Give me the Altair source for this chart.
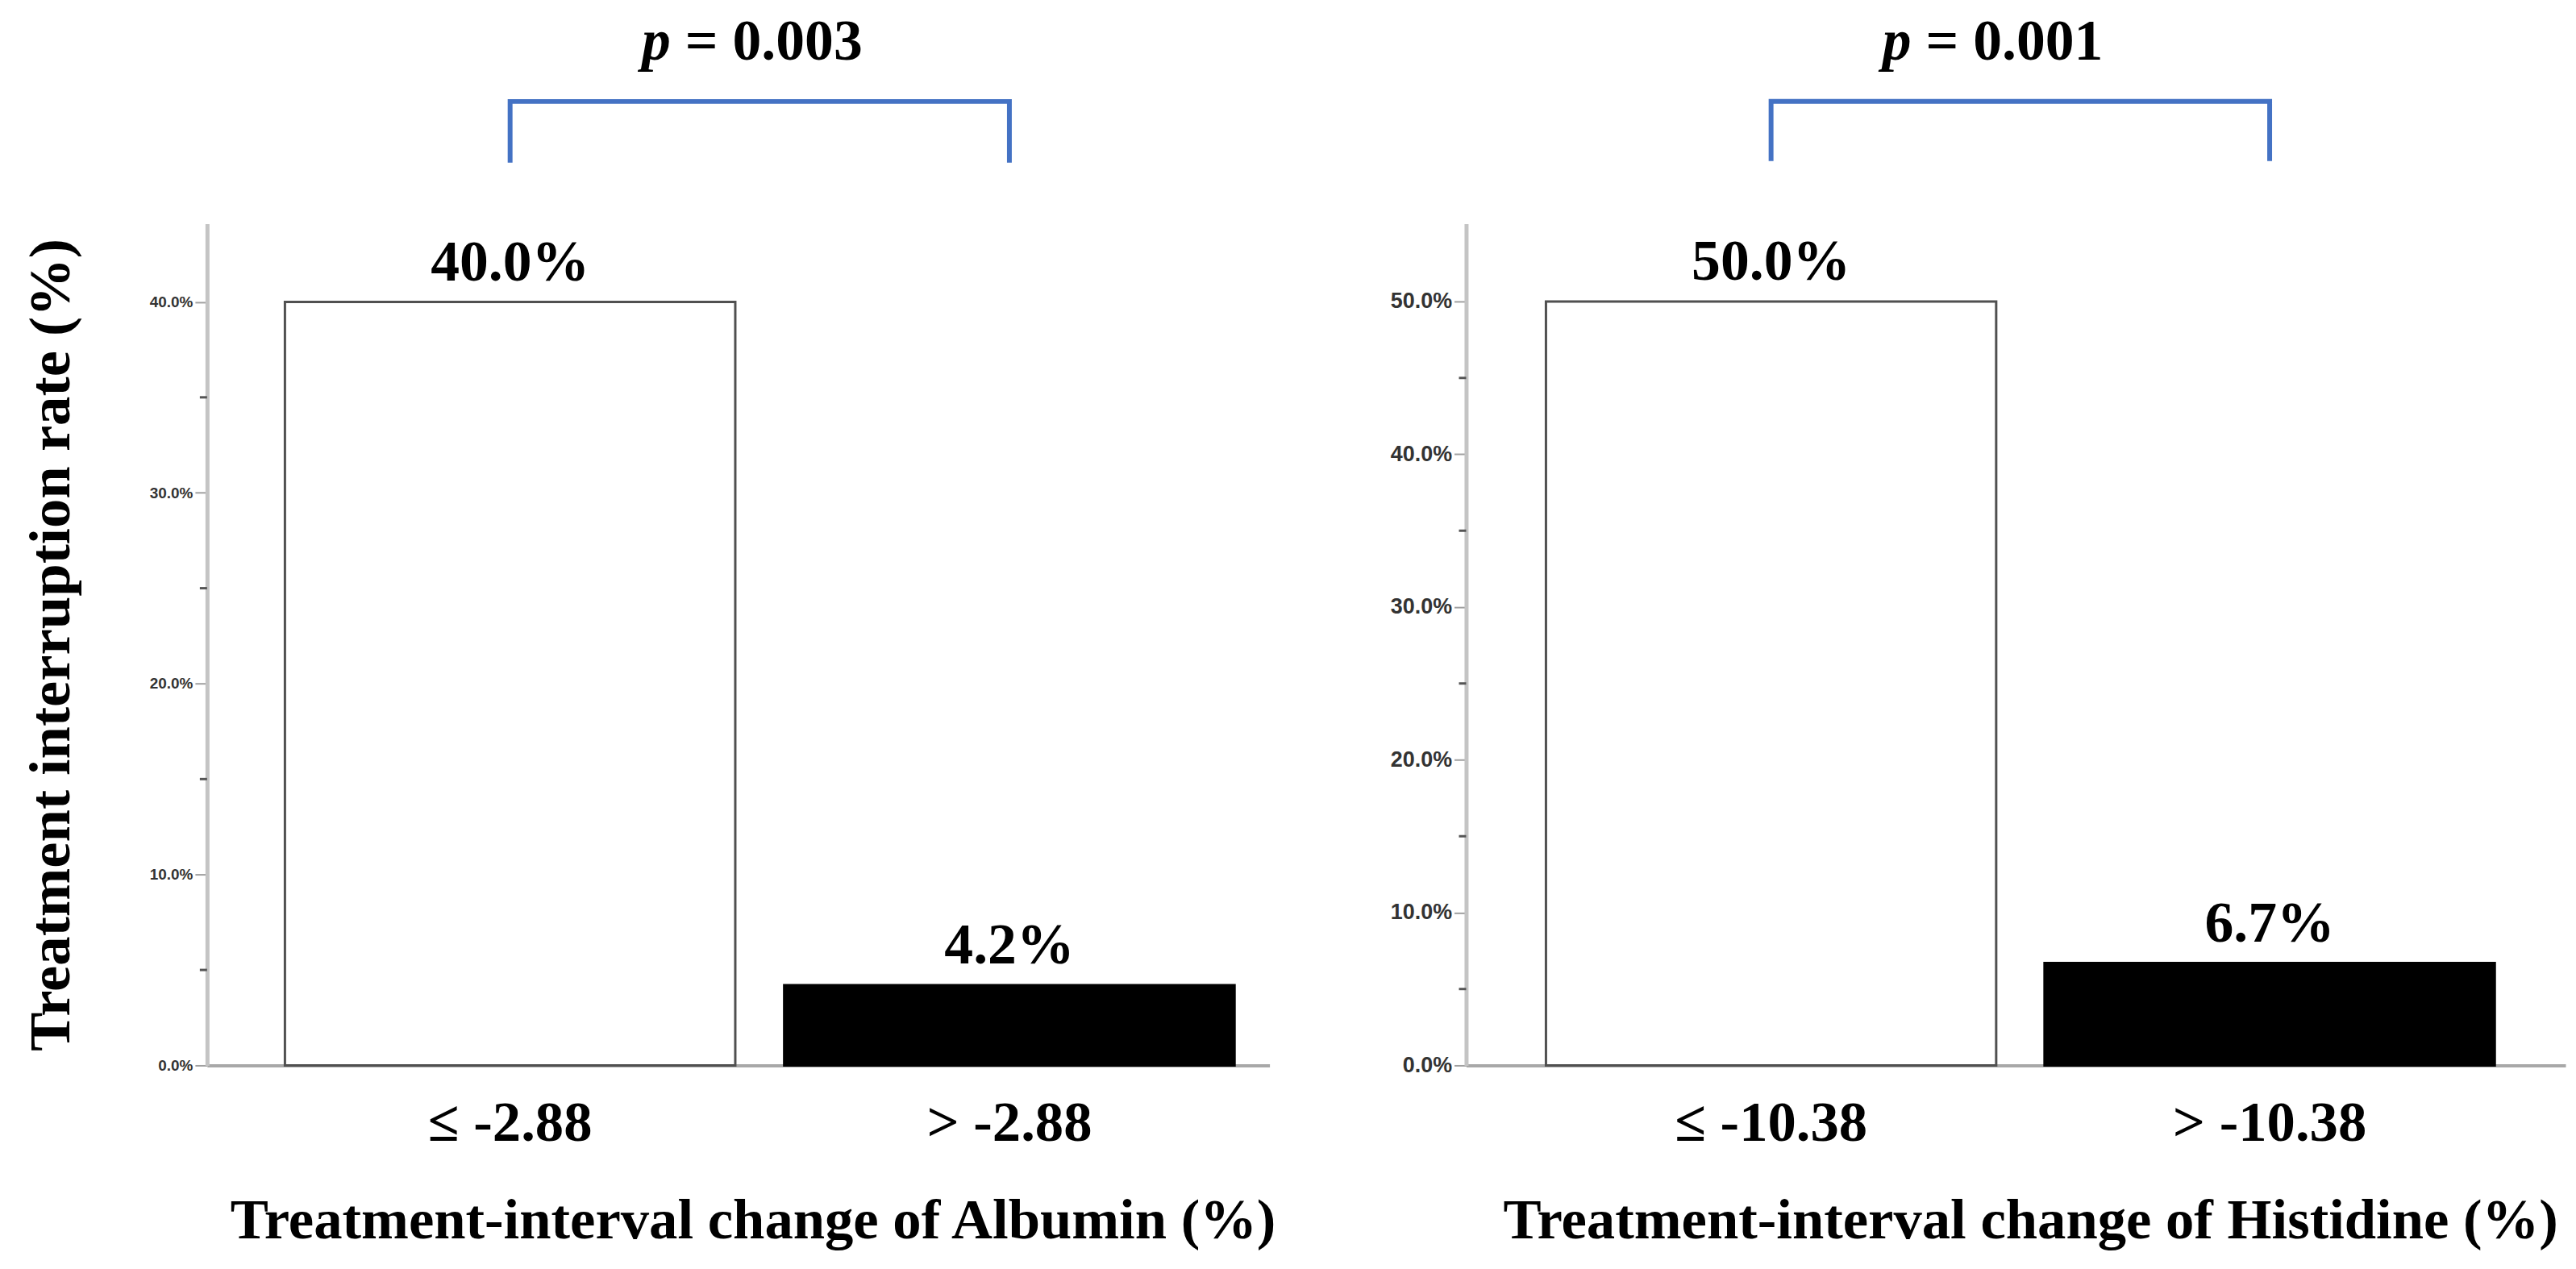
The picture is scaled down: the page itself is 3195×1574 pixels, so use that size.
import altair as alt
import pandas as pd

# ---- data ----
left_categories = ["≤ -2.88", "> -2.88"]
left_values = [40.0, 4.2]
left_labels = ["40.0%", "4.2%"]
right_categories = ["≤ -10.38", "> -10.38"]
right_values = [50.0, 6.7]
right_labels = ["50.0%", "6.7%"]
p_values = ["0.003", "0.001"]
x_titles = ["Treatment-interval change of Albumin (%)",
            "Treatment-interval change of Histidine (%)"]
y_title = "Treatment interruption rate (%)"
left_ticks = [0, 10, 20, 30, 40]
left_minor = [5, 15, 25, 35]
right_ticks = [0, 10, 20, 30, 40, 50]
right_minor = [5, 15, 25, 35, 45]
bar_fills = ["white", "black"]
bar_strokes = ["#505050", "black"]

SERIF = "Liberation Serif"
H = 1049
BLUE = "#4472C4"


def panel(cats, vals, labels, ticks, minor, ymax, pval, xtitle, width,
          pad_inner, pad_outer, align, bracket, tick_label_size, show_ytitle, text_shift):
    df = pd.DataFrame({"cat": cats, "val": vals, "label": labels,
                       "fill": bar_fills, "stroke": bar_strokes})
    xenc = alt.X(
        "cat:N", sort=cats,
        scale=alt.Scale(paddingInner=pad_inner, paddingOuter=pad_outer, align=align),
        axis=alt.Axis(title=xtitle, labelAngle=0, ticks=False, domain=True,
                      domainColor="#a8a8a8", domainWidth=4, labelLimit=0,
                      labelFont=SERIF, labelFontSize=71, labelFontWeight="bold",
                      labelColor="black", labelPadding=37,
                      titleFont=SERIF, titleFontSize=71, titleFontWeight="bold",
                      titleColor="black", titlePadding=52, titleX=width / 2 + 18))
    yscale = alt.Scale(domain=[0, ymax], nice=False, zero=True)
    axis_kw = dict(values=ticks, labelExpr="format(datum.value, '.1f') + '%'",
                   grid=False, domainColor="#c4c4c4", domainWidth=5,
                   tickColor="#a0a0a0", tickSize=15, tickWidth=2,
                   labelFont="Liberation Sans", labelFontSize=tick_label_size,
                   labelFontWeight="bold", labelColor="#333333", labelPadding=3)
    if show_ytitle:
        axis_kw.update(title=y_title, titleFont=SERIF, titleFontSize=73,
                       titleFontWeight="bold", titleColor="black", titlePadding=85)
    else:
        axis_kw.update(title="")
    yaxis = alt.Axis(**axis_kw)

    def Y(field):
        return alt.Y(field, type="quantitative", scale=yscale, axis=yaxis)

    bars = alt.Chart(df).mark_bar(strokeWidth=3).encode(
        x=xenc, y=Y("val"),
        fill=alt.Fill("fill:N", scale=None),
        stroke=alt.Stroke("stroke:N", scale=None))

    vlabels = alt.Chart(df).mark_text(
        font=SERIF, fontSize=72, fontWeight="bold", baseline="bottom", dy=-12,
        color="black").encode(x=xenc, y=Y("val"), text="label:N")

    lo, hi, ty = bracket
    br = pd.DataFrame({"cat": [cats[0], cats[0], cats[1], cats[1]],
                       "yb": [lo, hi, hi, lo], "o": [0, 1, 2, 3]})
    line = alt.Chart(br).mark_line(color=BLUE, strokeWidth=6, strokeJoin="miter").encode(
        x=xenc, y=Y("yb"), order="o:Q")

    mdf = pd.DataFrame({"m": minor})
    mticks = alt.Chart(mdf).mark_rule(color="#555555", strokeWidth=3).encode(
        y=Y("m"), x=alt.value(-9), x2=alt.value(0))

    step = width / (2 - pad_inner + 2 * pad_outer)
    center_dx = step / 2 + text_shift
    pdf = pd.DataFrame({"cat": [cats[0]], "yt": [ty], "p": ["p"], "rest": ["= " + pval]})
    ptxt = alt.Chart(pdf).mark_text(
        font=SERIF, fontSize=72, fontWeight="bold", fontStyle="italic",
        align="right", baseline="middle", dx=center_dx - 101, color="black").encode(
        x=xenc, y=Y("yt"), text="p:N")
    rtxt = alt.Chart(pdf).mark_text(
        font=SERIF, fontSize=72, fontWeight="bold",
        align="left", baseline="middle", dx=center_dx - 83, color="black").encode(
        x=xenc, y=Y("yt"), text="rest:N")

    return alt.layer(bars, vlabels, line, mticks, ptxt, rtxt).properties(
        width=width, height=H)


left = panel(left_categories, left_values, left_labels, left_ticks, left_minor,
             44.1, p_values[0], x_titles[0], 1324, 0.098, 0.113, 0.69,
             (47.3, 50.5, 53.6), 19, True, -10)
right = panel(right_categories, right_values, right_labels, right_ticks, right_minor,
              55.1, p_values[1], x_titles[1], 1370, 0.097, 0.151, 0.53,
              (59.2, 63.1, 67.0), 27, False, -35)

chart = alt.hconcat(left, right, spacing=140).resolve_scale(
    x="independent", y="independent").configure_view(stroke=None).properties(
    padding={"left": 20, "top": 4, "right": 5, "bottom": 5}, background="white")

chart.save("out.html", embed_options={"renderer": "svg", "actions": False})
